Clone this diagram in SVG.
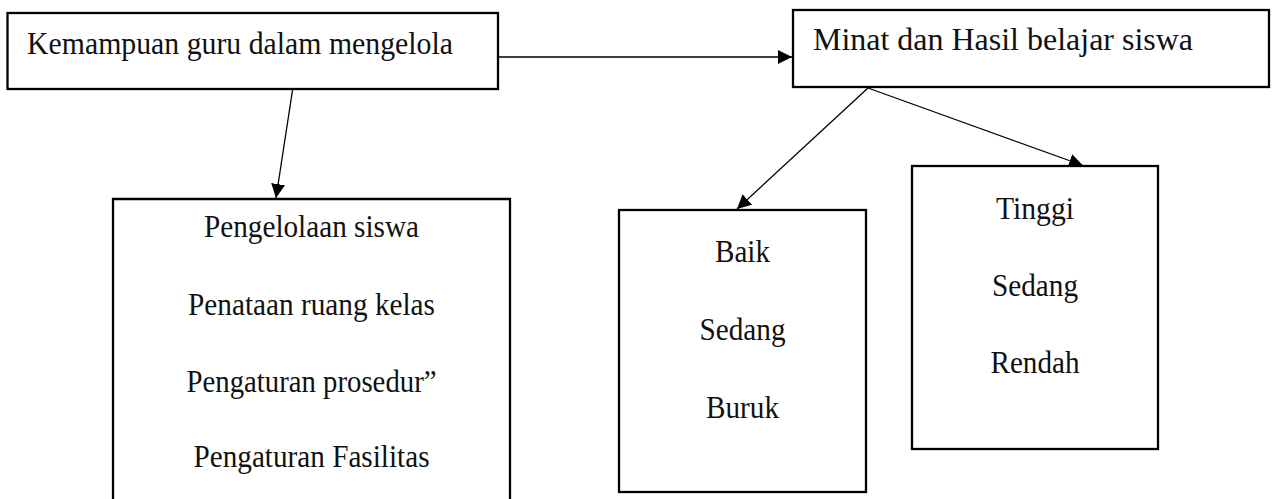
<svg xmlns="http://www.w3.org/2000/svg" width="1275" height="499" viewBox="0 0 1275 499">
<style>
.box{fill:#fff;stroke:#000;stroke-width:2.3}
.t{font-family:"Liberation Serif","Times New Roman",serif;font-size:32px;fill:#111}
.c{text-anchor:middle}
.conn{stroke:#000;stroke-width:1.3;fill:none}
</style>
<defs>
<marker id="ah" markerUnits="userSpaceOnUse" markerWidth="15" markerHeight="14" refX="14" refY="7" orient="auto">
<path d="M0,0 L14,7 L0,14 z" fill="#000"/>
</marker>
</defs>
<rect width="1275" height="499" fill="#fff"/>
<g id="connectors">
<line class="conn" x1="498" y1="57" x2="792" y2="57" marker-end="url(#ah)"/>
<line class="conn" x1="292.7" y1="89" x2="276" y2="198" marker-end="url(#ah)"/>
<line class="conn" x1="868" y1="88" x2="737" y2="209" marker-end="url(#ah)"/>
<line class="conn" x1="868" y1="88" x2="1083" y2="165.5" marker-end="url(#ah)"/>
</g>
<g id="node-kemampuan">
<rect class="box" x="7.5" y="13" width="490.5" height="76"/>
<text class="t" x="27" y="54" textLength="426" lengthAdjust="spacingAndGlyphs">Kemampuan guru dalam mengelola</text>
</g>
<g id="node-minat">
<rect class="box" x="793" y="10" width="476" height="77"/>
<text class="t" x="813" y="50" textLength="380" lengthAdjust="spacingAndGlyphs">Minat dan Hasil belajar siswa</text>
</g>
<g id="node-pengelolaan">
<path class="box" d="M113,510 L113,199 L510,199 L510,510"/>
<text class="t c" x="311.5" y="237" textLength="215" lengthAdjust="spacingAndGlyphs">Pengelolaan siswa</text>
<text class="t c" x="311.5" y="315" textLength="247" lengthAdjust="spacingAndGlyphs">Penataan ruang kelas</text>
<text class="t c" x="311.5" y="392" textLength="250" lengthAdjust="spacingAndGlyphs">Pengaturan prosedur”</text>
<text class="t c" x="311.5" y="467" textLength="236" lengthAdjust="spacingAndGlyphs">Pengaturan Fasilitas</text>
</g>
<g id="node-baik">
<rect class="box" x="619" y="210" width="247" height="282"/>
<text class="t c" x="742.5" y="262" textLength="55" lengthAdjust="spacingAndGlyphs">Baik</text>
<text class="t c" x="742.5" y="340" textLength="86" lengthAdjust="spacingAndGlyphs">Sedang</text>
<text class="t c" x="742.5" y="418" textLength="73" lengthAdjust="spacingAndGlyphs">Buruk</text>
</g>
<g id="node-tinggi">
<rect class="box" x="912" y="166" width="246" height="283"/>
<text class="t c" x="1035" y="219" textLength="78" lengthAdjust="spacingAndGlyphs">Tinggi</text>
<text class="t c" x="1035" y="296" textLength="86" lengthAdjust="spacingAndGlyphs">Sedang</text>
<text class="t c" x="1035" y="373" textLength="89" lengthAdjust="spacingAndGlyphs">Rendah</text>
</g>
</svg>
